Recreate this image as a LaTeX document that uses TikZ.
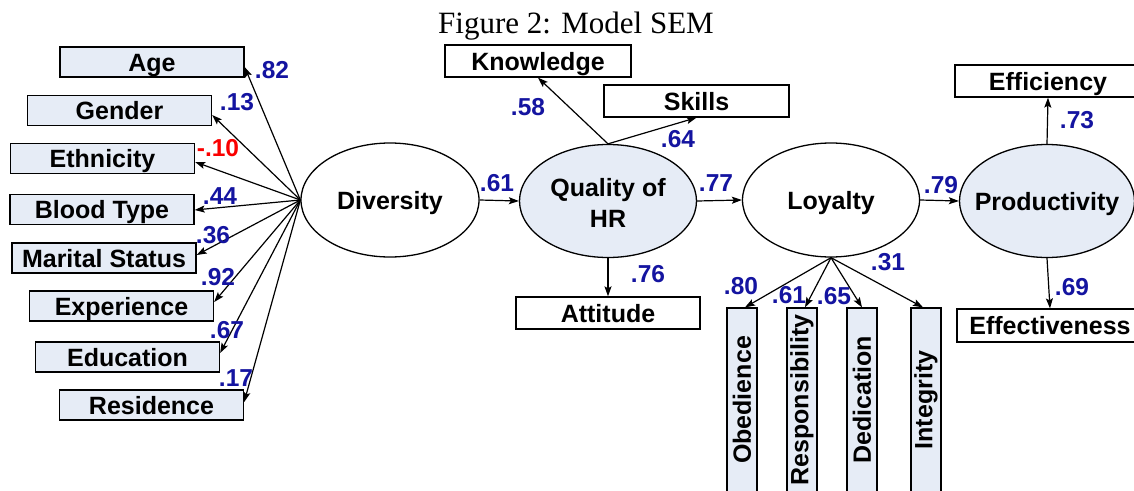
\documentclass[tikz,border=0pt]{standalone}
\usepackage{fontspec}
\setmainfont{Liberation Sans}
\newfontfamily\titlefont{Liberation Serif}
\usetikzlibrary{arrows.meta,shapes.geometric}
\definecolor{boxfill}{RGB}{230,236,246}
\definecolor{labblue}{RGB}{20,20,160}
\definecolor{labred}{RGB}{250,0,0}
\begin{document}
\begin{tikzpicture}[x=1pt,y=-1pt,
  every node/.style={font=\fontsize{25}{29}\selectfont\bfseries, inner sep=0pt},
  capcenter/.style={text height=18pt, text depth=0pt},
  obsbox/.style={capcenter, draw=black, line width=1.3pt, fill=boxfill, minimum width=184pt, minimum height=30pt},
  obswhite/.style={capcenter, draw=black, line width=1.3pt, fill=white, minimum width=185pt, minimum height=32pt},
  vbox/.style={draw=black, line width=1.3pt, fill=boxfill, minimum width=30pt, minimum height=184pt},
  latent/.style={ellipse, draw=black, line width=1.3pt, minimum width=178pt, minimum height=114pt},
  latentfill/.style={latent, fill=boxfill},
  latlabel/.style={align=center},
  path/.style={line width=1.2pt, -{Stealth[length=10pt,width=7pt,inset=2pt]}},
  coef/.style={text=labblue, font=\fontsize{24.5}{27}\selectfont\bfseries},
  coefneg/.style={text=labred, font=\fontsize{24.5}{27}\selectfont\bfseries}
]
\clip (0,0) rectangle (1134,490);
\fill[white] (0,0) rectangle (1134,490);

\node[font=\titlefont\fontsize{31}{35}\selectfont, anchor=base] (title) at (576,33) {Figure 2: Model SEM};

% left indicators
\node[obsbox] (age) at (152,62) {Age};
\node[obsbox] (gender) at (119.5,110.5) {Gender};
\node[obsbox] (eth) at (102.5,158.5) {Ethnicity};
\node[obsbox] (blood) at (102,209.5) {Blood Type};
\node[obsbox] (marital) at (104,258) {Marital Status};
\node[obsbox] (exper) at (121.5,306) {Experience};
\node[obsbox] (educ) at (127.5,357) {Education};
\node[obsbox] (resid) at (151.5,405) {Residence};

% latent variables
\node[latent, minimum width=178pt, minimum height=114pt] (div) at (390,200) {};
\node[latlabel, capcenter] (divlab) at (div.center) {Diversity};
\node[latentfill, minimum width=177pt, minimum height=113pt] (qhr) at (608,201) {};
\node[latlabel] (qhrlab) at ([yshift=-2pt]qhr.center) {Quality of\\[2pt]HR};
\node[latent, minimum width=177pt, minimum height=114pt] (loy) at (831,200) {};
\node[latlabel, capcenter] (loylab) at (loy.center) {Loyalty};
\node[latentfill, minimum width=175pt, minimum height=113pt] (prod) at (1047,201) {};
\node[latlabel, capcenter] (prodlab) at (prod.center) {Productivity};

% Quality of HR indicators
\node[obswhite, minimum width=186pt] (know) at (538,61) {Knowledge};
\node[obswhite] (skills) at (696.5,101) {Skills};
\node[obswhite, minimum width=184pt] (att) at (608,313) {Attitude};

% Productivity indicators
\node[obswhite, minimum width=186pt] (effic) at (1048,81) {Efficiency};
\node[obswhite, minimum width=186pt, minimum height=33pt] (effect) at (1050,325.5) {Effectiveness};

% Loyalty indicators
\node[vbox] (obed) at (742,400) {\rotatebox{90}{Obedience}};
\node[vbox] (resp) at (802,400) {\rotatebox{90}{Responsibility}};
\node[vbox] (dedi) at (862,400) {\rotatebox{90}{Dedication}};
\node[vbox] (integ) at (926,400) {\rotatebox{90}{Integrity}};

% Diversity paths
\draw[path] (div.west) -- ([yshift=-5pt]age.east);
\draw[path] (div.west) -- ([yshift=-4.5pt]gender.east);
\draw[path] (div.west) -- ([yshift=-3.5pt]eth.east);
\draw[path] (div.west) -- ([yshift=-0.5pt]blood.east);
\draw[path] (div.west) -- ([yshift=3pt]marital.east);
\draw[path] (div.west) -- ([yshift=4pt]exper.east);
\draw[path] (div.west) -- ([yshift=4pt]educ.east);
\draw[path] (div.west) -- ([yshift=3pt]resid.east);

% structural paths
\draw[path] (div.east) -- (qhr.west);
\draw[path] (qhr.east) -- (loy.west);
\draw[path] (loy.east) -- (prod.west);

% Quality of HR paths
\draw[path] (qhr.north) -- (know.south);
\draw[path] (qhr.north) -- (skills.south);
\draw[path] (qhr.south) -- (att.north);

% Loyalty paths
\draw[path] (loy.south) -- ([xshift=3pt]obed.north);
\draw[path] (loy.south) -- ([xshift=3pt]resp.north);
\draw[path] (loy.south) -- (dedi.north);
\draw[path] (loy.south) -- ([xshift=-3pt]integ.north);

% Productivity paths
\draw[path] (prod.north) -- (effic.south);
\draw[path] (prod.south) -- (effect.north);

% coefficients
\node[coef] (c82) at (272,70) {.82};
\node[coef] (c13) at (237,102) {.13};
\node[coefneg] (c10) at (218,148) {-.10};
\node[coef] (c44) at (220,196) {.44};
\node[coef] (c36) at (213,235) {.36};
\node[coef] (c92) at (218,277) {.92};
\node[coef] (c67) at (227,330) {.67};
\node[coef] (c17) at (236,378) {.17};

\node[coef] (c61) at (497,183) {.61};
\node[coef] (c77) at (716,183) {.77};
\node[coef] (c79) at (941,185) {.79};
\node[coef] (c58) at (528,107) {.58};
\node[coef] (c64) at (678,139) {.64};
\node[coef] (c76) at (648,274) {.76};
\node[coef] (c80) at (741,286) {.80};
\node[coef] (c61b) at (789,295) {.61};
\node[coef] (c65) at (834,296) {.65};
\node[coef] (c31) at (888,262) {.31};
\node[coef] (c73) at (1077,120) {.73};
\node[coef] (c69) at (1072,287) {.69};
\end{tikzpicture}
\end{document}
